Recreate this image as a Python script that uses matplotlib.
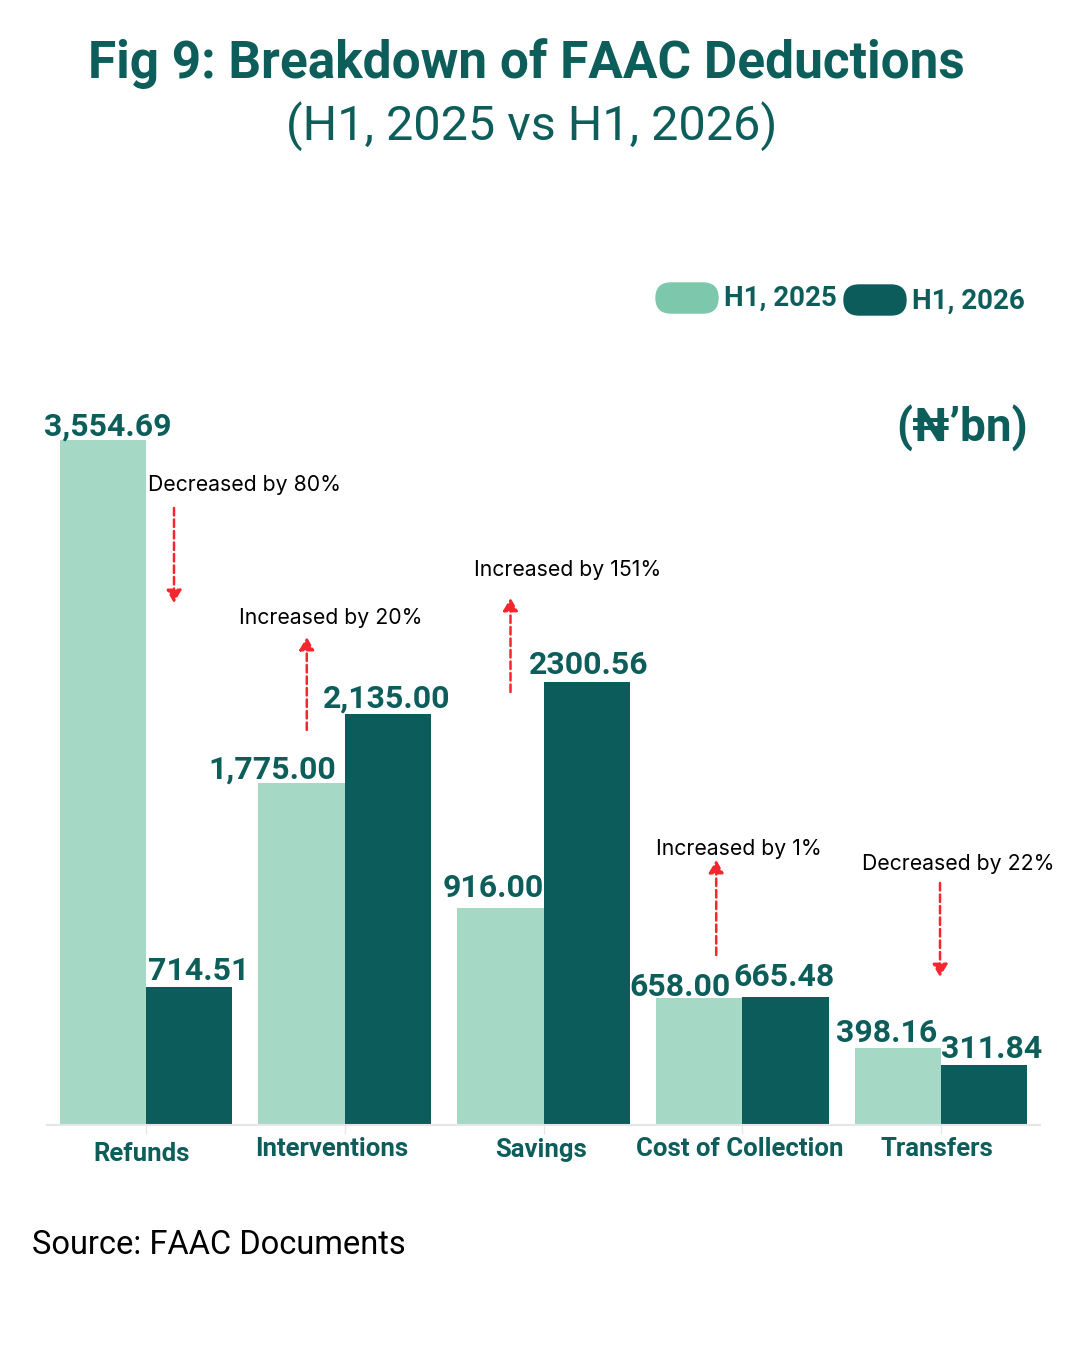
import numpy as np
import matplotlib.pyplot as plt
from matplotlib.patches import FancyBboxPatch

plt.rcParams['font.family'] = ['Roboto', 'DejaVu Sans']

# data
categories = ["Refunds", "Interventions", "Savings", "Cost of Collection", "Transfers"]
h1_2025 = [3554.69, 1775.00, 1128.0, 658.00, 398.16]   # Savings bar is drawn ~1128 high in the source, though labelled 916.00
h1_2026 = [714.51, 2135.00, 2300.56, 665.48, 311.84]
labels_2025 = ["3,554.69", "1,775.00", "916.00", "658.00", "398.16"]
labels_2026 = ["714.51", "2,135.00", "2300.56", "665.48", "311.84"]
changes = ["Decreased by 80%", "Increased by 20%", "Increased by 151%",
           "Increased by 1%", "Decreased by 22%"]

# colours
light = "#a6d8c6"
legend_light = "#7dc7ad"
dark = "#0c5c5b"
teal = "#0d5e5a"
red = "#f5262e"

# label nudges (points) and note layout (data coords)
nudge_2025 = [(3.5, 3.5), (-21, 3.5), (-5, 7.5), (-14, 1.5), (-8, 4.5)]
nudge_2026 = [(7, 5), (-1, 4.5), (1.5, 5.5), (-1, 8), (5, 5)]
cat_nudge = [(-3, -3), (-9, 0), (-2, 0), (-1.5, 0), (-3, 0)]
note_text_xy = [(0.497, 3321), (0.930, 2631), (2.121, 2880), (2.985, 1432), (4.085, 1354)]
note_arrow = [(0.141, 3202, 2709), (0.809, 2050, 2532), (1.834, 2247, 2735),
              (2.869, 882, 1375), (3.995, 1256, 768)]

W, H = 1080, 1350
fig = plt.figure(figsize=(W / 100, H / 100), dpi=100)
ax = fig.add_axes([46.6 / W, (H - 1125) / H, (1040.4 - 46.6) / W, 771 / H])

x = np.arange(len(categories))
w = 0.435
ax.bar(x - w / 2, h1_2025, w, color=light)
ax.bar(x + w / 2, h1_2026, w, color=dark)
ax.set_xlim(-0.5, 4.5)
ax.set_ylim(0, 4001)

for s in ["top", "left", "right"]:
    ax.spines[s].set_visible(False)
ax.spines["bottom"].set_color("#e6e6e6")
ax.spines["bottom"].set_linewidth(1.5)
ax.set_yticks([])
ax.set_xticks(x, [""] * len(x))
ax.tick_params(axis="x", length=6.5, width=1, color="#e6e6e6")

# category labels (drawn as text so each can be nudged like the source)
for i, cat in enumerate(categories):
    ax.annotate(cat, (x[i], 0), xytext=(cat_nudge[i][0], -9 + cat_nudge[i][1]),
                textcoords="offset points", ha="center", va="top",
                fontsize=18.5, fontweight="bold", color=teal)

# value labels
for i in range(len(categories)):
    ax.annotate(labels_2025[i], (x[i] - w / 2, h1_2025[i]), xytext=nudge_2025[i],
                textcoords="offset points", ha="center", va="baseline",
                fontsize=23, fontweight="bold", color=teal)
    ax.annotate(labels_2026[i], (x[i] + w / 2, h1_2026[i]), xytext=nudge_2026[i],
                textcoords="offset points", ha="center", va="baseline",
                fontsize=23, fontweight="bold", color=teal)

# change notes with dashed arrows
for txt, (tx, ty), (axx, y0, y1) in zip(changes, note_text_xy, note_arrow):
    ax.text(tx, ty, txt, ha="center", va="center", fontsize=15.3,
            family=["Inter", "DejaVu Sans"], color="black")
    ax.annotate("", xy=(axx, y1), xytext=(axx, y0),
                arrowprops=dict(arrowstyle="-|>,head_length=0.55,head_width=0.32",
                                color=red, lw=1.8, linestyle=(0, (3, 1.6)),
                                shrinkA=0, shrinkB=0, mutation_scale=14))

# legend pills
fig.patches.append(FancyBboxPatch((6.56, 10.37), 0.62, 0.30,
                                  boxstyle="round,pad=0,rounding_size=0.15",
                                  transform=fig.dpi_scale_trans, color=legend_light))
fig.patches.append(FancyBboxPatch((8.44, 10.35), 0.62, 0.30,
                                  boxstyle="round,pad=0,rounding_size=0.15",
                                  transform=fig.dpi_scale_trans, color=dark))
fig.text(724 / W, (H - 306) / H, "H1, 2025", ha="left", va="baseline",
         fontsize=20, fontweight="bold", color=teal)
fig.text(912 / W, (H - 309) / H, "H1, 2026", ha="left", va="baseline",
         fontsize=20, fontweight="bold", color=teal)

# titles and notes
fig.text(526 / W, (H - 78) / H, "Fig 9: Breakdown of FAAC Deductions",
         ha="center", va="baseline", fontsize=37, fontweight="bold", color=teal)
fig.text(532 / W, (H - 140) / H, "(H1, 2025 vs H1, 2026)",
         ha="center", va="baseline", fontsize=35, color=teal)
fig.text(1028 / W, (H - 442) / H, "(\u20a6\u2019bn)", ha="right", va="baseline",
         fontsize=33, fontweight="bold", color=teal)
fig.text(32 / W, (H - 1254) / H, "Source: FAAC Documents", ha="left",
         va="baseline", fontsize=23.5, color="black")

fig.savefig("out.png", dpi=100)
